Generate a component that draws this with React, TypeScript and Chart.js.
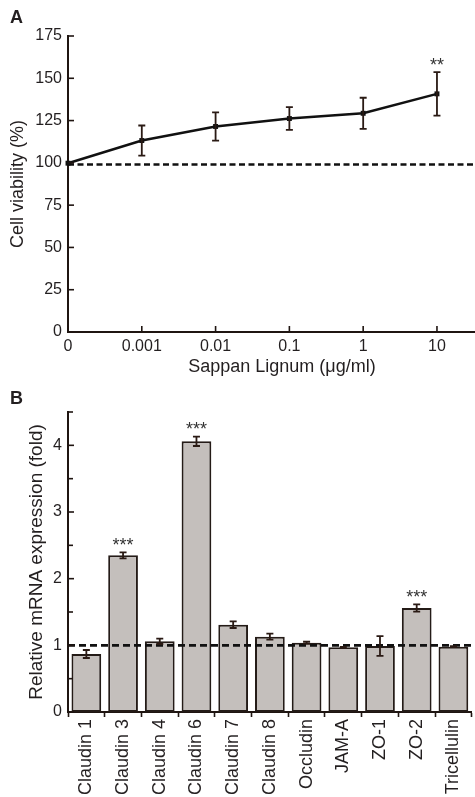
import { useEffect, useRef } from "react";
import { Chart, registerables } from "chart.js";

Chart.register(...registerables);

// ---------- Panel A data ----------
const DOSE_LABELS = ["0", "0.001", "0.01", "0.1", "1", "10"];
const DOSE_POS = [0, 1, 2, 3, 4, 5];
const VIABILITY = [99.8, 113.2, 121.5, 126.2, 129.3, 140.8];
const VIABILITY_ERR = [0, 8.9, 8.3, 6.7, 9.2, 12.9];
const VIABILITY_STARS = ["", "", "", "", "", "**"];
const VIABILITY_TICKS = [0, 25, 50, 75, 100, 125, 150, 175];
const VIABILITY_REF = 99;

// ---------- Panel B data ----------
const GENES = [
  "Claudin 1",
  "Claudin 3",
  "Claudin 4",
  "Claudin 6",
  "Claudin 7",
  "Claudin 8",
  "Occludin",
  "JAM-A",
  "ZO-1",
  "ZO-2",
  "Tricellulin",
];
const EXPRESSION = [0.87, 2.35, 1.06, 4.06, 1.31, 1.13, 1.04, 0.97, 0.99, 1.56, 0.98];
const EXPRESSION_ERR = [0.06, 0.045, 0.04, 0.07, 0.05, 0.045, 0.015, 0.008, 0.147, 0.055, 0.008];
const EXPRESSION_STARS = ["", "***", "", "***", "", "", "", "", "", "***", ""];
const EXPRESSION_REF = 1;

const FONT = '"Liberation Sans", Arial, Helvetica, sans-serif';
const AXIS = "#1f1511";
const TEXT = "#231f20";
const ERR = "#2a1a14";

type DecorOpts = {
  values: number[];
  errors: number[];
  stars: string[];
  ref: number;
  dash: number[];
  dashWidth: number;
  cap: number;
  starFont: string;
  tickLen: { [axis: string]: number };
  minorLen: number;
};

function makeDecor(o: DecorOpts) {
  return {
    id: "decor",
    afterDatasetsDraw(chart: any) {
      const ctx = chart.ctx as CanvasRenderingContext2D;
      const ys = chart.scales.y;
      const area = chart.chartArea;
      // reference dashed line
      ctx.save();
      ctx.strokeStyle = "#111";
      ctx.lineWidth = o.dashWidth;
      ctx.setLineDash(o.dash);
      const yr = ys.getPixelForValue(o.ref);
      ctx.beginPath();
      ctx.moveTo(area.left, yr);
      ctx.lineTo(area.right, yr);
      ctx.stroke();
      ctx.restore();
      // error bars + stars
      const meta = chart.getDatasetMeta(0);
      ctx.save();
      ctx.strokeStyle = ERR;
      ctx.lineWidth = 1.8;
      meta.data.forEach((el: any, i: number) => {
        const v = o.values[i];
        const e = o.errors[i];
        const x = el.x;
        const yt = ys.getPixelForValue(v + e);
        const yb = ys.getPixelForValue(v - e);
        if (e > 0) {
          ctx.beginPath();
          ctx.moveTo(x, yt);
          ctx.lineTo(x, yb);
          ctx.moveTo(x - o.cap, yt);
          ctx.lineTo(x + o.cap, yt);
          ctx.moveTo(x - o.cap, yb);
          ctx.lineTo(x + o.cap, yb);
          ctx.stroke();
        }
        if (o.stars[i]) {
          ctx.fillStyle = "#333";
          ctx.font = o.starFont;
          ctx.textAlign = "center";
          ctx.textBaseline = "alphabetic";
          ctx.fillText(o.stars[i], x, yt - 1.5);
        }
      });
      ctx.restore();
    },
    afterDraw(chart: any) {
      const ctx = chart.ctx as CanvasRenderingContext2D;
      ctx.save();
      ctx.strokeStyle = AXIS;
      ctx.lineWidth = 1.6;
      Object.keys(o.tickLen).forEach((id) => {
        const scale = chart.scales[id];
        const len = o.tickLen[id];
        scale.ticks.forEach((t: any) => {
          const p = scale.getPixelForValue(t.value);
          const l = Number.isInteger(t.value) ? len : o.minorLen;
          ctx.beginPath();
          if (scale.isHorizontal()) {
            ctx.moveTo(p, scale.top);
            ctx.lineTo(p, scale.top - l);
          } else {
            ctx.moveTo(scale.right, p);
            ctx.lineTo(scale.right + l, p);
          }
          ctx.stroke();
        });
      });
      ctx.restore();
    },
  };
}

function PanelA() {
  const ref = useRef<HTMLCanvasElement>(null);
  useEffect(() => {
    const chart = new Chart(ref.current!, {
      type: "line",
      data: {
        datasets: [
          {
            data: DOSE_POS.map((x, i) => ({ x, y: VIABILITY[i] })),
            borderColor: "#111",
            borderWidth: 2.5,
            pointStyle: "rect",
            pointRadius: 3.5,
            pointBackgroundColor: "#111",
            pointBorderColor: "#111",
            pointBorderWidth: 0,
            clip: false as any,
            tension: 0,
          },
        ],
      },
      options: {
        animation: false,
        responsive: false,
        events: [],
        layout: { padding: { left: 0, top: 36, right: 0, bottom: 2 } },
        plugins: { legend: { display: false }, tooltip: { enabled: false } },
        scales: {
          x: {
            type: "linear",
            min: 0,
            max: 5.8,
            afterBuildTicks: (s: any) => {
              s.ticks = DOSE_POS.map((v) => ({ value: v }));
            },
            afterFit: (s: any) => {
              s.height = 46;
            },
            grid: { display: false, drawTicks: false },
            border: { display: true, color: AXIS, width: 2 },
            ticks: {
              padding: 5,
              color: TEXT,
              font: { family: FONT, size: 16 },
              callback: (v: any) => DOSE_LABELS[DOSE_POS.indexOf(Number(v))] ?? "",
            },
            title: {
              display: true,
              text: "Sappan Lignum (μg/ml)",
              color: TEXT,
              font: { family: FONT, size: 18 },
              padding: { top: 0, bottom: 0 },
            },
          },
          y: {
            min: 0,
            max: 175,
            afterBuildTicks: (s: any) => {
              s.ticks = VIABILITY_TICKS.map((v) => ({ value: v }));
            },
            afterFit: (s: any) => {
              s.width = 68;
            },
            grid: { display: false, drawTicks: false },
            border: { display: true, color: AXIS, width: 2 },
            ticks: {
              padding: 6,
              color: TEXT,
              font: { family: FONT, size: 16 },
            },
            title: {
              display: true,
              text: "Cell viability (%)",
              color: TEXT,
              font: { family: FONT, size: 18 },
              padding: { top: 7, bottom: 0 },
            },
          },
        },
      },
      plugins: [
        makeDecor({
          values: VIABILITY,
          errors: VIABILITY_ERR,
          stars: VIABILITY_STARS,
          ref: VIABILITY_REF,
          dash: [6, 3.5],
          dashWidth: 2.6,
          cap: 3.5,
          starFont: `18px ${FONT}`,
          tickLen: { x: 6, y: 6 },
          minorLen: 4,
        }),
      ],
    } as any);
    return () => chart.destroy();
  }, []);
  return (
    <canvas
      ref={ref}
      width={500}
      height={380}
      style={{ position: "absolute", left: 0, top: 0, width: 500, height: 380 }}
    />
  );
}

function PanelB() {
  const ref = useRef<HTMLCanvasElement>(null);
  useEffect(() => {
    const chart = new Chart(ref.current!, {
      type: "bar",
      data: {
        labels: GENES,
        datasets: [
          {
            data: EXPRESSION,
            backgroundColor: "#c4bfbc",
            borderColor: "#241b17",
            borderWidth: 2,
            borderSkipped: false,
            categoryPercentage: 1,
            barPercentage: 0.81,
          },
        ],
      },
      options: {
        animation: false,
        responsive: false,
        events: [],
        layout: { padding: { left: 0, top: 32, right: 0, bottom: 0 } },
        plugins: { legend: { display: false }, tooltip: { enabled: false } },
        scales: {
          x: {
            type: "category",
            offset: true,
            afterFit: (s: any) => {
              s.height = 85;
            },
            grid: {
              display: true,
              drawOnChartArea: false,
              drawTicks: true,
              tickLength: 5,
              tickColor: AXIS,
              tickWidth: 1.6,
            },
            border: { display: true, color: AXIS, width: 2 },
            ticks: {
              autoSkip: false,
              minRotation: 90,
              maxRotation: 90,
              padding: 2,
              color: TEXT,
              font: { family: FONT, size: 18 },
            },
          },
          y: {
            min: 0,
            max: 4.5,
            ticks: {
              stepSize: 0.5,
              padding: 6,
              color: TEXT,
              font: { family: FONT, size: 16 },
              callback: (v: any) => (Number.isInteger(Number(v)) ? String(v) : ""),
            },
            afterFit: (s: any) => {
              s.width = 68;
            },
            grid: { display: false, drawTicks: false },
            border: { display: true, color: AXIS, width: 2 },
            title: {
              display: true,
              text: "Relative mRNA expression (fold)",
              color: TEXT,
              font: { family: FONT, size: 19 },
              padding: { top: 25, bottom: 0 },
            },
          },
        },
      },
      plugins: [
        makeDecor({
          values: EXPRESSION,
          errors: EXPRESSION_ERR,
          stars: EXPRESSION_STARS,
          ref: EXPRESSION_REF,
          dash: [7, 4],
          dashWidth: 2.6,
          cap: 3.5,
          starFont: `18px ${FONT}`,
          tickLen: { y: 6 },
          minorLen: 5,
        }),
      ],
    } as any);
    return () => chart.destroy();
  }, []);
  return (
    <canvas
      ref={ref}
      width={477}
      height={417}
      style={{ position: "absolute", left: 0, top: 380, width: 477, height: 417 }}
    />
  );
}

export default function App() {
  const letter = {
    position: "absolute" as const,
    left: 10,
    fontFamily: FONT,
    fontWeight: 700,
    fontSize: 18,
    lineHeight: "18px",
    color: TEXT,
  };
  return (
    <div
      style={{
        position: "fixed",
        left: 0,
        top: 0,
        width: 475,
        height: 797,
        overflow: "hidden",
        background: "#fff",
      }}
    >
      <PanelA />
      <PanelB />
      <div style={{ ...letter, top: 8 }}>A</div>
      <div style={{ ...letter, top: 389 }}>B</div>
    </div>
  );
}
